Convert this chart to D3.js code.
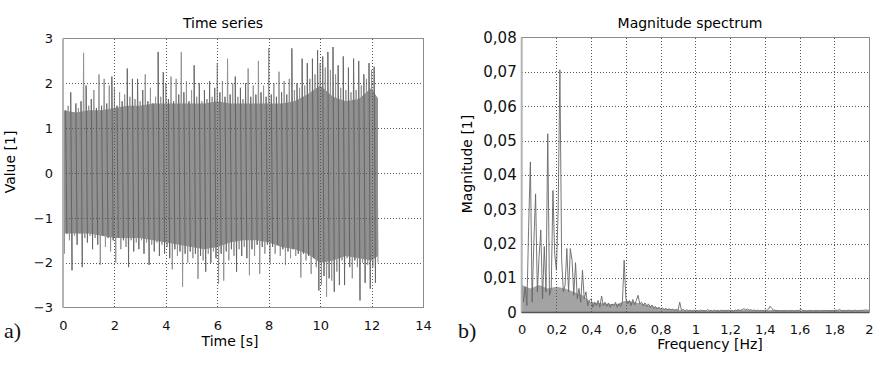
<!DOCTYPE html>
<meta charset='utf-8'>
<style>
  body { margin: 0; background: #fff; }
  svg { display: block; font-family: 'DejaVu Sans', Verdana, sans-serif; }
  .frame { fill: none; stroke: #8c8c8c; stroke-width: 1; shape-rendering: crispEdges; }
  .grid line { stroke: #555; stroke-width: 1; stroke-dasharray: 1,2; shape-rendering: crispEdges; }
  .axis text { fill: #111; }
  .tag { font-family: 'Liberation Serif', 'Times New Roman', serif; fill: #111; }
</style>
<body>
<script src='https://d3js.org/d3.v7.min.js'></script>
<script>
  // ---- a) time series: peak / trough of each 0.1 s oscillation
  const timeTicks = [0, 2, 4, 6, 8, 10, 12, 14]
  const valueTicks = [-3, -2, -1, 0, 1, 2, 3]
  const sampleStep = 0.1

  const upperPeaks = [
    1.95, 1.4, 1.5, 1.8, 1.35, 1.55, 1.45, 1.6, 2.68, 1.95,
    1.5, 1.65, 1.85, 1.45, 2.2, 1.5, 2.1, 1.55, 1.95, 2.15,
    1.9, 1.5, 1.8, 1.6, 1.75, 2.33, 1.7, 2.1, 1.65, 2.1,
    1.6, 1.85, 2.2, 1.6, 1.9, 1.55, 1.7, 2.7, 1.7, 2.25,
    2.0, 1.65, 2.15, 1.6, 2.1, 1.75, 2.7, 1.8, 2.05, 1.6,
    1.85, 2.4, 1.7, 2.0, 1.6, 1.85, 1.65, 2.05, 1.7, 1.9,
    2.45, 1.8, 2.05, 1.7, 2.55, 1.75, 2.0, 2.15, 1.7, 1.9,
    1.65, 2.0, 2.33, 1.7, 1.95, 1.75, 2.5, 1.8, 1.95, 1.7,
    2.78, 1.75, 2.0, 1.7, 2.26, 1.8, 2.05, 1.75, 2.1, 2.78,
    1.85, 2.0, 1.9, 2.55, 1.95, 2.45, 2.1, 2.55, 2.2, 2.74,
    2.45, 2.6, 2.35, 2.7, 2.3, 2.81, 2.2, 2.4, 1.9, 2.6,
    1.85, 2.35, 1.8, 2.55, 1.85, 2.5, 1.95, 2.2, 2.1, 2.45,
    2.3, 2.37, 1.7
  ]

  const lowerPeaks = [
    -1.8, -1.35, -1.5, -2.17, -1.4, -1.6, -1.35, -2.1, -1.45, -1.55,
    -1.4, -1.7, -1.45, -1.6, -2.05, -1.4, -1.65, -1.45, -1.75, -1.5,
    -2.0, -1.45, -1.7, -1.5, -1.65, -2.1, -1.5, -1.75, -1.55, -1.7,
    -1.5, -1.8, -1.55, -2.05, -1.6, -1.75, -1.55, -1.85, -1.6, -1.8,
    -1.65, -1.9, -2.15, -1.7, -1.85, -1.75, -2.54, -1.8, -2.0, -1.75,
    -1.9, -1.8, -2.36, -1.85, -1.95, -2.2, -1.8, -2.0, -1.75, -1.9,
    -2.47, -1.8, -2.4, -1.75, -1.95, -1.7, -1.85, -2.2, -1.7, -1.85,
    -1.65, -1.9, -2.28, -1.7, -1.85, -1.6, -2.25, -1.65, -1.8, -1.6,
    -2.0, -1.65, -1.8, -1.6, -1.85, -1.7, -2.05, -1.75, -1.9, -1.7,
    -1.85, -1.8, -2.33, -1.8, -1.95, -1.85, -2.25, -1.9, -2.1, -2.62,
    -2.5, -2.3, -2.76, -2.35, -2.4, -2.65, -2.2, -2.5, -1.95, -2.5,
    -1.9, -2.1, -2.35, -1.95, -2.1, -2.84, -2.0, -2.45, -2.05, -2.58,
    -2.1, -2.45, -2.0
  ]

  // solid part of the band (where the traces overlap completely)
  const bandTimes = [0, 0.5, 1, 1.5, 2, 2.5, 3, 3.5, 4, 4.5, 5, 5.5, 6, 6.5, 7, 7.5, 8, 8.5, 9, 9.5, 10, 10.5, 11, 11.5, 12, 12.25]
  const bandTop = [1.4, 1.35, 1.4, 1.4, 1.45, 1.5, 1.5, 1.55, 1.55, 1.55, 1.55, 1.55, 1.6, 1.55, 1.55, 1.55, 1.55, 1.55, 1.6, 1.75, 1.95, 1.7, 1.6, 1.65, 1.9, 1.65]
  const bandBottom = [-1.35, -1.35, -1.35, -1.4, -1.45, -1.45, -1.45, -1.5, -1.55, -1.6, -1.65, -1.7, -1.65, -1.55, -1.5, -1.5, -1.55, -1.65, -1.7, -1.8, -2.0, -1.95, -1.85, -1.9, -1.95, -1.85]

  // ---- b) magnitude spectrum, one value per 0.01 Hz bin
  const freqTicks = [0, 0.2, 0.4, 0.6, 0.8, 1, 1.2, 1.4, 1.6, 1.8, 2]
  const magTicks = [0, 0.01, 0.02, 0.03, 0.04, 0.05, 0.06, 0.07, 0.08]
  const binWidth = 0.01

  const spectrum = [
    0.0085, 0.003, 0.0075, 0.002, 0.025, 0.0438, 0.003, 0.0205, 0.0345, 0.006,
    0.0162, 0.024, 0.004, 0.0192, 0.006, 0.052, 0.005, 0.007, 0.0355, 0.017,
    0.0123, 0.030, 0.0706, 0.0155, 0.006, 0.008, 0.0186, 0.006, 0.0186, 0.0152,
    0.005, 0.0145, 0.004, 0.007, 0.003, 0.0123, 0.004, 0.006, 0.002, 0.0035,
    0.004, 0.0015, 0.003, 0.002, 0.0035, 0.0015, 0.0048, 0.002, 0.003, 0.0018,
    0.0028, 0.0015, 0.0025, 0.002, 0.003, 0.0015, 0.0025, 0.0018, 0.003, 0.0152,
    0.004, 0.0025, 0.0035, 0.002, 0.0038, 0.0022, 0.0035, 0.005, 0.0025, 0.003,
    0.002, 0.0028, 0.0018, 0.0025, 0.0015, 0.0022, 0.0012, 0.0018, 0.001, 0.0016,
    0.0009, 0.0014, 0.0008, 0.0012, 0.0008, 0.0011, 0.0007, 0.001, 0.0006, 0.0009,
    0.0006, 0.003, 0.0007, 0.0009, 0.0005, 0.0008, 0.0005, 0.0007, 0.0004, 0.0007,
    0.0005, 0.0006, 0.0004, 0.0007, 0.0005, 0.0006, 0.0004, 0.0009, 0.0005, 0.0006,
    0.0004, 0.0007, 0.0005, 0.0006, 0.0004, 0.0007, 0.0005, 0.0006, 0.0005, 0.0007,
    0.0005, 0.0006, 0.0004, 0.0007, 0.0006, 0.0008, 0.0006, 0.0009, 0.0011, 0.0008,
    0.001, 0.0007, 0.0008, 0.0006, 0.0007, 0.0005, 0.0007, 0.0005, 0.0006, 0.0005,
    0.0007, 0.0006, 0.0009, 0.0018, 0.0012, 0.0007, 0.0006, 0.0005, 0.0006, 0.0004,
    0.0006, 0.0005, 0.0006, 0.0004, 0.0006, 0.0005, 0.0006, 0.0004, 0.0006, 0.0005,
    0.0007, 0.0009, 0.0005, 0.0006, 0.0004, 0.0006, 0.0005, 0.0006, 0.0004, 0.0006,
    0.0005, 0.0006, 0.0004, 0.0006, 0.0005, 0.0006, 0.0005, 0.0006, 0.0004, 0.0006,
    0.0005, 0.0007, 0.0006, 0.0009, 0.0006, 0.0005, 0.0006, 0.0005, 0.0007, 0.0005,
    0.0006, 0.0005, 0.0007, 0.0005, 0.0006, 0.0005, 0.0007, 0.0006, 0.0008, 0.0006,
    0.0007
  ]

  // filled noise floor under the spectrum, every 0.05 Hz
  const floorStep = 0.05
  const noiseFloor = [
    0.008, 0.007, 0.008, 0.007, 0.0075, 0.007, 0.006, 0.005, 0.003, 0.0028,
    0.0025, 0.0025, 0.0035, 0.003, 0.0025, 0.0018, 0.0012, 0.001, 0.0008, 0.0006,
    0.0006, 0.0006, 0.0005, 0.0006, 0.0006, 0.0007, 0.0007, 0.0006, 0.0006, 0.0008,
    0.0006, 0.0006, 0.0006, 0.0006, 0.0006, 0.0006, 0.0007, 0.0006, 0.0006, 0.0006,
    0.0006
  ]

  const comma = d3.formatLocale({decimal: ',', thousands: '.', grouping: [3], currency: ['', '']})
  const fmt = comma.format('.2~f')

  const svg = d3.select('body')
    .append('svg')
    .attr('width', 881)
    .attr('height', 386)

  svg.append('rect').attr('width', 881).attr('height', 386).attr('fill', '#fff')

  // ================= a) Time series =================
  const x1 = d3.scaleLinear().domain([0, 14]).range([63, 423])
  const y1 = d3.scaleLinear().domain([-3, 3]).range([307.5, 38.5])

  const series = []
  upperPeaks.forEach((v, i) => {
    series.push({t: i * sampleStep, v: v})
    series.push({t: (i + 0.5) * sampleStep, v: lowerPeaks[i]})
  })

  const left = svg.append('g')

  left.append('path')
    .datum(bandTimes)
    .attr('d', d3.area()
      .x(d => x1(d))
      .y0((d, i) => y1(bandBottom[i]))
      .y1((d, i) => y1(bandTop[i])))
    .attr('fill', '#8e8e8e')

  left.append('path')
    .datum(series)
    .attr('d', d3.line().x(d => x1(d.t)).y(d => y1(d.v)))
    .attr('fill', 'none')
    .attr('stroke', '#939393')
    .attr('stroke-width', 1)

  // darker strokes seen inside the band
  left.append('g')
    .selectAll('line')
    .data(d3.range(1, upperPeaks.length, 2))
    .join('line')
    .attr('x1', i => x1(i * sampleStep))
    .attr('x2', i => x1((i + 0.5) * sampleStep))
    .attr('y1', i => y1(upperPeaks[i]))
    .attr('y2', i => y1(lowerPeaks[i]))
    .attr('stroke', '#444')
    .attr('stroke-width', 0.6)

  const grid1 = left.append('g').attr('class', 'grid')
  grid1.selectAll('.gx')
    .data(timeTicks.slice(1, -1))
    .join('line')
    .attr('x1', d => Math.round(x1(d)) + 0.5)
    .attr('x2', d => Math.round(x1(d)) + 0.5)
    .attr('y1', y1(3))
    .attr('y2', y1(-3))
  grid1.selectAll('.gy')
    .data(valueTicks.slice(1, -1))
    .join('line')
    .attr('class', 'gy')
    .attr('x1', x1(0))
    .attr('x2', x1(14))
    .attr('y1', d => Math.round(y1(d)) + 0.5)
    .attr('y2', d => Math.round(y1(d)) + 0.5)

  left.append('rect')
    .attr('class', 'frame')
    .attr('x', x1(0) + 0.5)
    .attr('y', y1(3))
    .attr('width', x1(14) - x1(0))
    .attr('height', y1(-3) - y1(3))
  left.append('line')
    .attr('x1', x1(0)).attr('x2', x1(0))
    .attr('y1', y1(3)).attr('y2', y1(-3))
    .attr('stroke', '#b4b4b4').attr('stroke-width', 2)

  const xAxis1 = left.append('g')
    .attr('class', 'axis')
    .attr('transform', `translate(0, ${y1(-3)})`)
    .call(d3.axisBottom(x1).tickValues(timeTicks).tickSize(0).tickPadding(13).tickFormat(fmt))
  const yAxis1 = left.append('g')
    .attr('class', 'axis')
    .attr('transform', `translate(${x1(0)}, 0)`)
    .call(d3.axisLeft(y1).tickValues(valueTicks).tickSize(0).tickPadding(10).tickFormat(fmt))
  ;[xAxis1, yAxis1].forEach(a => {
    a.select('.domain').remove()
    a.attr('font-family', null).attr('font-size', 13)
  })

  left.append('text')
    .attr('x', 223).attr('y', 28)
    .attr('text-anchor', 'middle')
    .attr('font-size', 14)
    .text('Time series')
  left.append('text')
    .attr('x', 230).attr('y', 346)
    .attr('text-anchor', 'middle')
    .attr('font-size', 14)
    .text('Time [s]')
  left.append('text')
    .attr('transform', 'translate(15, 162) rotate(-90)')
    .attr('text-anchor', 'middle')
    .attr('font-size', 14)
    .text('Value [1]')
  left.append('text')
    .attr('class', 'tag')
    .attr('x', 4).attr('y', 338)
    .attr('font-size', 22)
    .text('a)')

  // ================= b) Magnitude spectrum =================
  const x2 = d3.scaleLinear().domain([0, 2]).range([521.7, 869])
  const y2 = d3.scaleLinear().domain([0, 0.08]).range([312.5, 37.5])

  const right = svg.append('g')

  right.append('path')
    .datum(noiseFloor)
    .attr('d', d3.area()
      .x((d, i) => x2(i * floorStep))
      .y0(y2(0))
      .y1(d => y2(d)))
    .attr('fill', '#a3a3a3')

  right.append('path')
    .datum(spectrum)
    .attr('d', d3.line().x((d, i) => x2(i * binWidth)).y(d => y2(d)))
    .attr('fill', 'none')
    .attr('stroke', '#666')
    .attr('stroke-width', 0.9)

  const grid2 = right.append('g').attr('class', 'grid')
  grid2.selectAll('.gx')
    .data(freqTicks.slice(1, -1))
    .join('line')
    .attr('x1', d => Math.round(x2(d)) + 0.5)
    .attr('x2', d => Math.round(x2(d)) + 0.5)
    .attr('y1', y2(0.08))
    .attr('y2', y2(0))
  grid2.selectAll('.gy')
    .data(magTicks.slice(1, -1))
    .join('line')
    .attr('class', 'gy')
    .attr('x1', x2(0))
    .attr('x2', x2(2))
    .attr('y1', d => Math.round(y2(d)) + 0.5)
    .attr('y2', d => Math.round(y2(d)) + 0.5)

  right.append('rect')
    .attr('class', 'frame')
    .attr('x', x2(0))
    .attr('y', y2(0.08))
    .attr('width', x2(2) - x2(0))
    .attr('height', y2(0) - y2(0.08))
  right.append('line')
    .attr('x1', x2(0)).attr('x2', x2(0))
    .attr('y1', y2(0.08)).attr('y2', y2(0))
    .attr('stroke', '#b4b4b4').attr('stroke-width', 2)
  right.append('line')
    .attr('x1', x2(0)).attr('x2', x2(2))
    .attr('y1', y2(0)).attr('y2', y2(0))
    .attr('stroke', '#555').attr('stroke-width', 1.5)

  const xAxis2 = right.append('g')
    .attr('class', 'axis')
    .attr('transform', `translate(0, ${y2(0)})`)
    .call(d3.axisBottom(x2).tickValues(freqTicks).tickSize(0).tickPadding(12).tickFormat(fmt))
  xAxis2.attr('font-size', 13)
  const yAxis2 = right.append('g')
    .attr('class', 'axis')
    .attr('transform', `translate(${x2(0)}, 0)`)
    .call(d3.axisLeft(y2).tickValues(magTicks).tickSize(0).tickPadding(5).tickFormat(fmt))
  yAxis2.attr('font-size', 15)
  ;[xAxis2, yAxis2].forEach(a => {
    a.select('.domain').remove()
    a.attr('font-family', null)
  })

  right.append('text')
    .attr('x', 690).attr('y', 28)
    .attr('text-anchor', 'middle')
    .attr('font-size', 14)
    .text('Magnitude spectrum')
  right.append('text')
    .attr('x', 710).attr('y', 349)
    .attr('text-anchor', 'middle')
    .attr('font-size', 14)
    .text('Frequency [Hz]')
  right.append('text')
    .attr('transform', 'translate(472, 164) rotate(-90)')
    .attr('text-anchor', 'middle')
    .attr('font-size', 14)
    .text('Magnitude [1]')
  right.append('text')
    .attr('class', 'tag')
    .attr('x', 458).attr('y', 338)
    .attr('font-size', 22)
    .text('b)')
</script>
</body>
